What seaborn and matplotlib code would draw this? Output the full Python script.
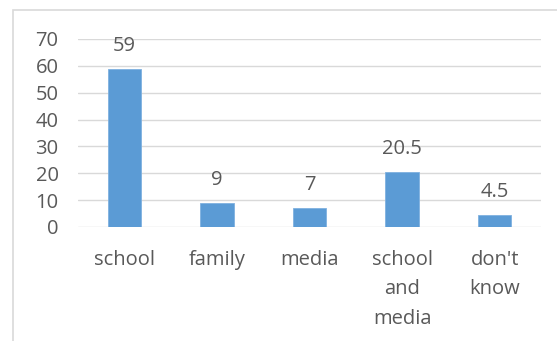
import matplotlib
matplotlib.use("Agg")
import matplotlib.pyplot as plt
import seaborn as sns
from matplotlib.patches import Rectangle

categories = ["school", "family", "media", "school\nand\nmedia", "don't\nknow"]
values = [59, 9, 7, 20.5, 4.5]
labels = ["59", "9", "7", "20.5", "4.5"]
yticks = [0, 10, 20, 30, 40, 50, 60, 70]

sns.set_theme(style="white")
plt.rcParams["font.family"] = ["Open Sans", "DejaVu Sans"]

text_col = "#595959"
fs = 14.5
fig = plt.figure(figsize=(5.57, 3.41), dpi=100)
ax = fig.add_axes([78 / 557, 1 - 227 / 341, 463 / 557, 188 / 341])

sns.barplot(x=categories, y=values, color="#5B9BD5", width=0.36,
            saturation=1, ax=ax, edgecolor="#7fb1e0", linewidth=0.6, zorder=3)

ax.set_ylim(0, 70)
ax.set_xlim(-0.5, 4.5)
ax.set_yticks(yticks)
ax.yaxis.grid(True, color="#d9d9d9", linewidth=1.0, zorder=0)
ax.set_axisbelow(True)
for s in ax.spines.values():
    s.set_visible(False)
ax.tick_params(axis="both", length=0, colors=text_col, labelsize=fs)
ax.tick_params(axis="y", pad=14)
ax.tick_params(axis="x", pad=16.5)
for t in ax.get_xticklabels():
    t.set_linespacing(1.62)
    t.set_verticalalignment("top")

for i, (v, lab) in enumerate(zip(values, labels)):
    ax.annotate(lab, (i, v), xytext=(0, 16.5), textcoords="offset points",
                ha="center", va="center", fontsize=fs, color=text_col)

# chart-area border
fig.patches.append(Rectangle((13 / 557, -0.1), 1.2, 1 - 10 / 341 + 0.1,
                             transform=fig.transFigure, fill=False,
                             edgecolor="#d9d9d9", linewidth=1.2))

fig.savefig("out.png", dpi=100)
